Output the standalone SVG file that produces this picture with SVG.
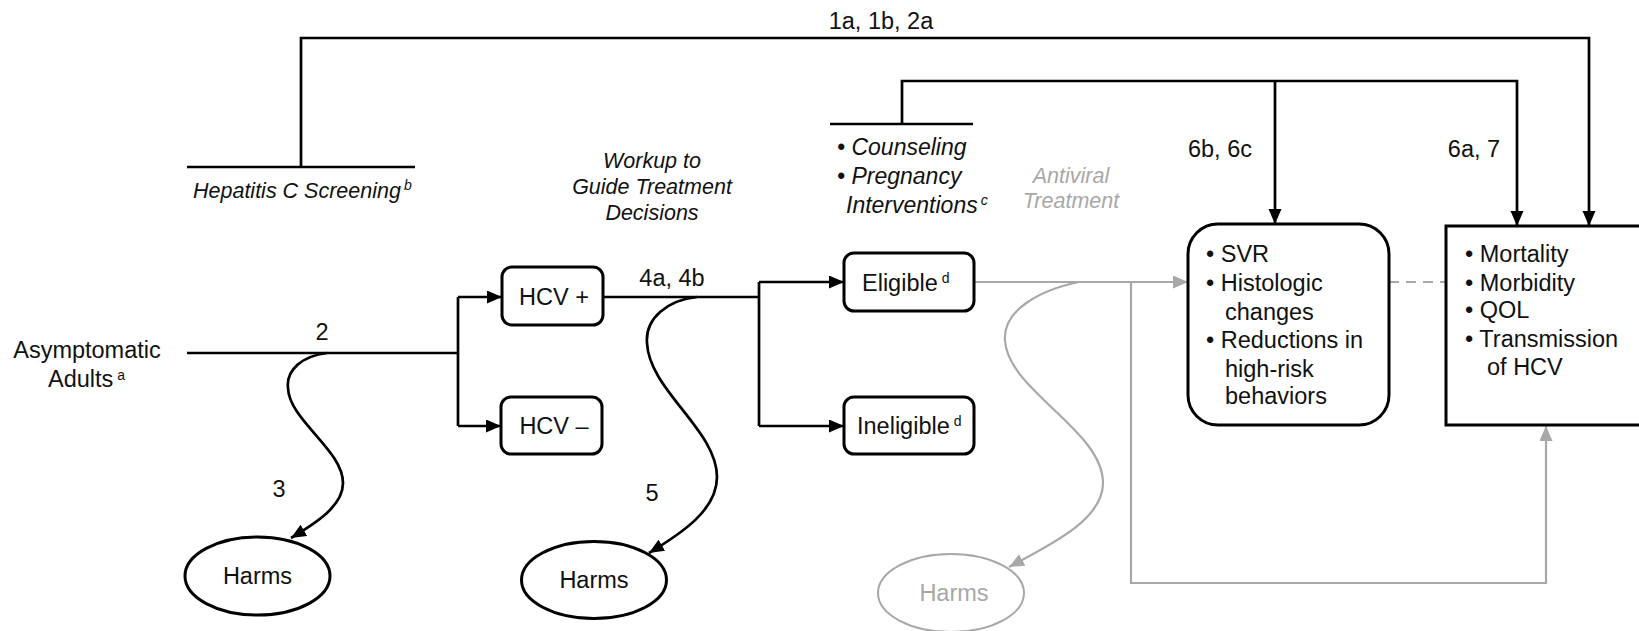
<svg xmlns="http://www.w3.org/2000/svg" width="1639" height="631" viewBox="0 0 1639 631">
<style>
.t{font-family:"Liberation Sans",Arial,sans-serif;font-size:23.5px;fill:#111}
.i{font-family:"Liberation Sans",Arial,sans-serif;font-style:italic;font-size:21.5px;fill:#111}
.ib{font-family:"Liberation Sans",Arial,sans-serif;font-style:italic;font-size:23px;fill:#111}
.g{fill:#a8a8a8}
.sup{font-size:14px}
.box{fill:#fff;stroke:#000;stroke-width:3}
.gbox{fill:#fff;stroke:#a8a8a8;stroke-width:2}
.ln{fill:none;stroke:#000;stroke-width:2.7}
.gl{fill:none;stroke:#a8a8a8;stroke-width:2.2}
.c{text-anchor:middle}
</style>
<defs>
<marker id="ab" markerUnits="userSpaceOnUse" markerWidth="16" markerHeight="14" refX="15" refY="6.5" orient="auto"><path d="M0,0 L15,6.5 L0,13 z" fill="#000"/></marker>
<marker id="ag" markerUnits="userSpaceOnUse" markerWidth="16" markerHeight="14" refX="15" refY="6.5" orient="auto"><path d="M0,0 L15,6.5 L0,13 z" fill="#a8a8a8"/></marker>
</defs>
<rect width="1639" height="631" fill="#fff"/>

<g id="connectors">
<line class="ln" x1="187" y1="167" x2="415" y2="167"/>
<polyline class="ln" points="301,167 301,38 1589,38 1589,226" marker-end="url(#ab)"/>
<line class="ln" x1="830" y1="124" x2="973" y2="124"/>
<polyline class="ln" points="902,124 902,81 1517,81 1517,226" marker-end="url(#ab)"/>
<line class="ln" x1="1275" y1="81" x2="1275" y2="224" marker-end="url(#ab)"/>
<line class="ln" x1="187" y1="353" x2="458" y2="353"/>
<line class="ln" x1="458" y1="297" x2="458" y2="426"/>
<line class="ln" x1="458" y1="297" x2="502" y2="297" marker-end="url(#ab)"/>
<line class="ln" x1="458" y1="426" x2="501" y2="426" marker-end="url(#ab)"/>
<line class="ln" x1="603" y1="297" x2="759" y2="297"/>
<line class="ln" x1="759" y1="282" x2="759" y2="426"/>
<line class="ln" x1="759" y1="282" x2="844" y2="282" marker-end="url(#ab)"/>
<line class="ln" x1="759" y1="426" x2="844" y2="426" marker-end="url(#ab)"/>
<path class="ln" d="M327,353 C302,356 286,370 288,388 C289,420 343,450 343,483 C343,506 316,523 291,538" marker-end="url(#ab)"/>
<path class="ln" d="M697,297 C668,300 645,318 647,343 C649,390 717,430 717,477 C717,510 682,533 649,553" marker-end="url(#ab)"/>
<line class="gl" x1="974" y1="282" x2="1188" y2="282" marker-end="url(#ag)"/>
<path class="gl" d="M1079,282 C1040,290 1003,310 1005,340 C1007,390 1103,430 1103,483 C1103,520 1050,545 1009,567" marker-end="url(#ag)"/>
<polyline class="gl" points="1131,282 1131,583 1546,583 1546,426" marker-end="url(#ag)"/>
<line class="gl" x1="1389" y1="282" x2="1446" y2="282" stroke-dasharray="10,7"/>
</g>

<g id="labels">
<text class="t c" x="881" y="29">1a, 1b, 2a</text>
<text class="t c" x="1220" y="157">6b, 6c</text>
<text class="t c" x="1474" y="157">6a, 7</text>
<text class="t c" x="322" y="340">2</text>
<text class="t c" x="672" y="286">4a, 4b</text>
<text class="t c" x="279" y="497">3</text>
<text class="t c" x="652" y="501">5</text>
</g>

<g id="screening"><text class="i" x="193" y="198">Hepatitis C Screening<tspan class="sup" dx="3" dy="-8">b</tspan></text></g>
<g id="workup">
<text class="i c" x="652" y="168">Workup to</text>
<text class="i c" x="652" y="194">Guide Treatment</text>
<text class="i c" x="652" y="220">Decisions</text>
</g>
<g id="counseling">
<text class="ib" x="837" y="155">• Counseling</text>
<text class="ib" x="837" y="184">• Pregnancy</text>
<text class="ib" x="846" y="213">Interventions<tspan class="sup" dx="3" dy="-8">c</tspan></text>
</g>
<g id="antiviral">
<text class="i c g" x="1071" y="183">Antiviral</text>
<text class="i c g" x="1071" y="208">Treatment</text>
</g>

<g id="adults">
<text class="t c" x="87" y="358">Asymptomatic</text>
<text class="t" x="48" y="387">Adults<tspan class="sup" dx="4" dy="-7">a</tspan></text>
</g>

<g id="hcvpos"><rect class="box" x="502" y="267" width="101" height="58" rx="10"/><text class="t c" x="554" y="305">HCV +</text></g>
<g id="hcvneg"><rect class="box" x="501" y="397" width="101" height="57" rx="10"/><text class="t c" x="554" y="434">HCV –</text></g>
<g id="eligible"><rect class="box" x="844" y="253" width="130" height="58" rx="10"/><text class="t" x="862" y="291">Eligible<tspan class="sup" dx="4" dy="-8">d</tspan></text></g>
<g id="ineligible"><rect class="box" x="844" y="397" width="130" height="57" rx="10"/><text class="t" x="857" y="434">Ineligible<tspan class="sup" dx="4" dy="-8">d</tspan></text></g>

<g id="harms1"><ellipse class="box" cx="257.5" cy="576" rx="72.5" ry="39"/><text class="t c" x="257.5" y="584">Harms</text></g>
<g id="harms2"><ellipse class="box" cx="594" cy="580" rx="72.5" ry="38.5"/><text class="t c" x="594" y="588">Harms</text></g>
<g id="harms3"><ellipse class="gbox" cx="951" cy="593" rx="73" ry="39"/><text class="t c g" x="954" y="601">Harms</text></g>

<g id="intermediate">
<rect class="box" x="1188" y="224" width="201" height="201" rx="30"/>
<text class="t" x="1206" y="262">• SVR</text>
<text class="t" x="1206" y="291">• Histologic</text>
<text class="t" x="1225" y="320">changes</text>
<text class="t" x="1206" y="348">• Reductions in</text>
<text class="t" x="1225" y="377">high-risk</text>
<text class="t" x="1225" y="404">behaviors</text>
</g>

<g id="outcomes">
<rect class="box" x="1446" y="226" width="240" height="199"/>
<text class="t" x="1465" y="262">• Mortality</text>
<text class="t" x="1465" y="291">• Morbidity</text>
<text class="t" x="1465" y="318">• QOL</text>
<text class="t" x="1465" y="347">• Transmission</text>
<text class="t" x="1487" y="375">of HCV</text>
</g>
</svg>
